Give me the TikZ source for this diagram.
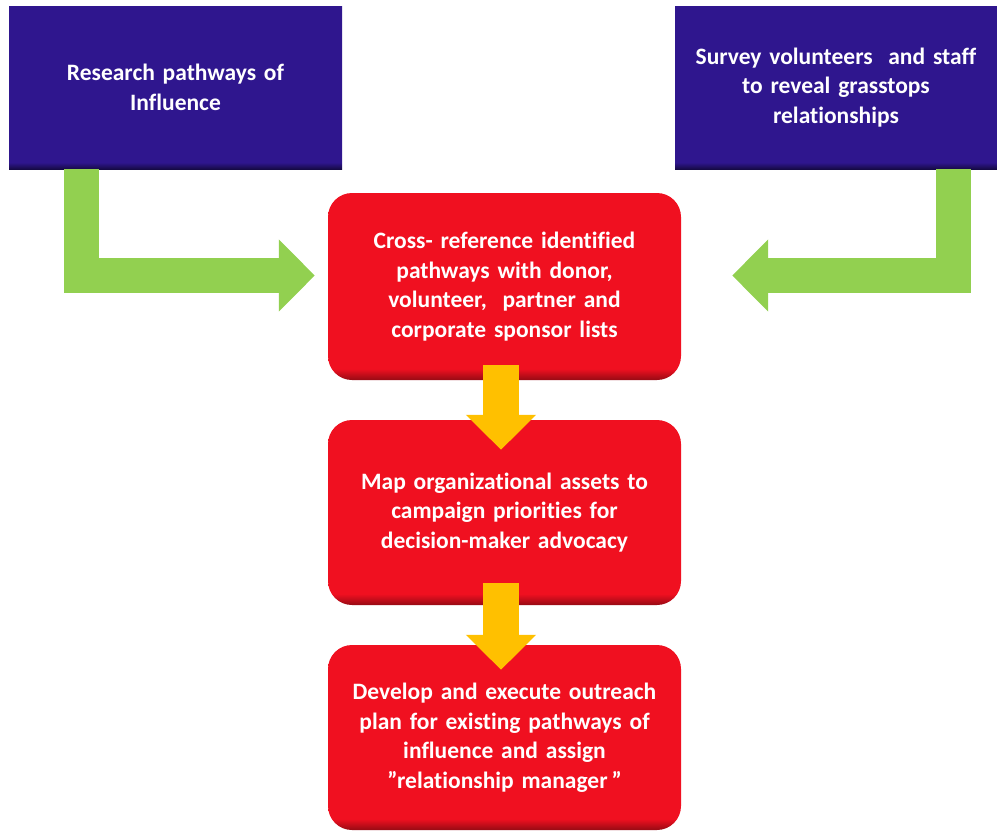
\documentclass[tikz,border=0pt]{standalone}
\usepackage{fontspec}
\setmainfont{Carlito}[RawFeature=-liga]
\usetikzlibrary{arrows.meta,calc}
\definecolor{blueA}{RGB}{47,22,142}
\definecolor{blueD}{RGB}{22,10,70}
\definecolor{redA}{RGB}{240,16,32}
\definecolor{redD}{RGB}{150,10,20}
\definecolor{greenA}{RGB}{146,208,80}
\definecolor{yellowA}{RGB}{255,192,0}
\pgfdeclareverticalshading{redboxshade}{100bp}{color(0bp)=(redD); color(25bp)=(redD); color(28bp)=(redA); color(100bp)=(redA)}
\pgfdeclareverticalshading{blueboxshade}{100bp}{color(0bp)=(blueD); color(25bp)=(blueD); color(27bp)=(blueA); color(100bp)=(blueA)}
\tikzset{
  txt/.style={text=white, font=\bfseries\fontsize{23.5}{29.5}\selectfont, align=center, inner sep=0pt},
  bluebox/.style={txt, shading=blueboxshade, rectangle},
  redbox/.style={txt, shading=redboxshade, rounded corners=24pt, minimum width=353pt, text width=345pt},
  greenarrow/.style={draw=greenA, line width=35pt, line join=miter, -{Triangle[width=70pt,length=36pt]}},
  yellowarrow/.style={draw=yellowA, line width=36pt, -{Triangle[width=68pt,length=35pt]}},
}
\begin{document}
\begin{tikzpicture}[x=1pt,y=-1pt]
\useasboundingbox (0,0) rectangle (997,831);
\node[bluebox, minimum width=333pt, minimum height=163pt, text width=325pt] (b1) at (175.5,87.5) {Research pathways of\\Influence};
\node[bluebox, minimum width=322pt, minimum height=163pt, text width=318pt] (b2) at (836,87.5) {Survey volunteers\ \ and staff\\to reveal grasstops\\relationships};
\node[redbox, minimum height=187pt] (r1) at (504.5,286.5) {Cross- reference identified\\pathways with donor,\\volunteer,\ \ partner and\\corporate sponsor lists};
\node[redbox, minimum height=185pt] (r2) at (504.5,512.5) {Map organizational assets to\\campaign priorities for\\decision-maker advocacy};
\node[redbox, minimum height=185pt] (r3) at (504.5,737.5) {Develop and execute outreach\\plan for existing pathways of\\influence and assign\\\textquotedblright relationship manager\,\textquotedblright};
\draw[greenarrow] ($(b1.south west)+(73,0)$) |- ($(r1.west)+(-13,-11)$);
\draw[greenarrow] ($(b2.south east)+(-44,0)$) |- ($(r1.east)+(51,-11)$);
\draw[yellowarrow] ($(r1.south)+(-3.5,-15)$) -- ($(r2.north)+(-3.5,30)$);
\draw[yellowarrow] ($(r2.south)+(-3.5,-22)$) -- ($(r3.north)+(-3.5,25)$);
\end{tikzpicture}
\end{document}
